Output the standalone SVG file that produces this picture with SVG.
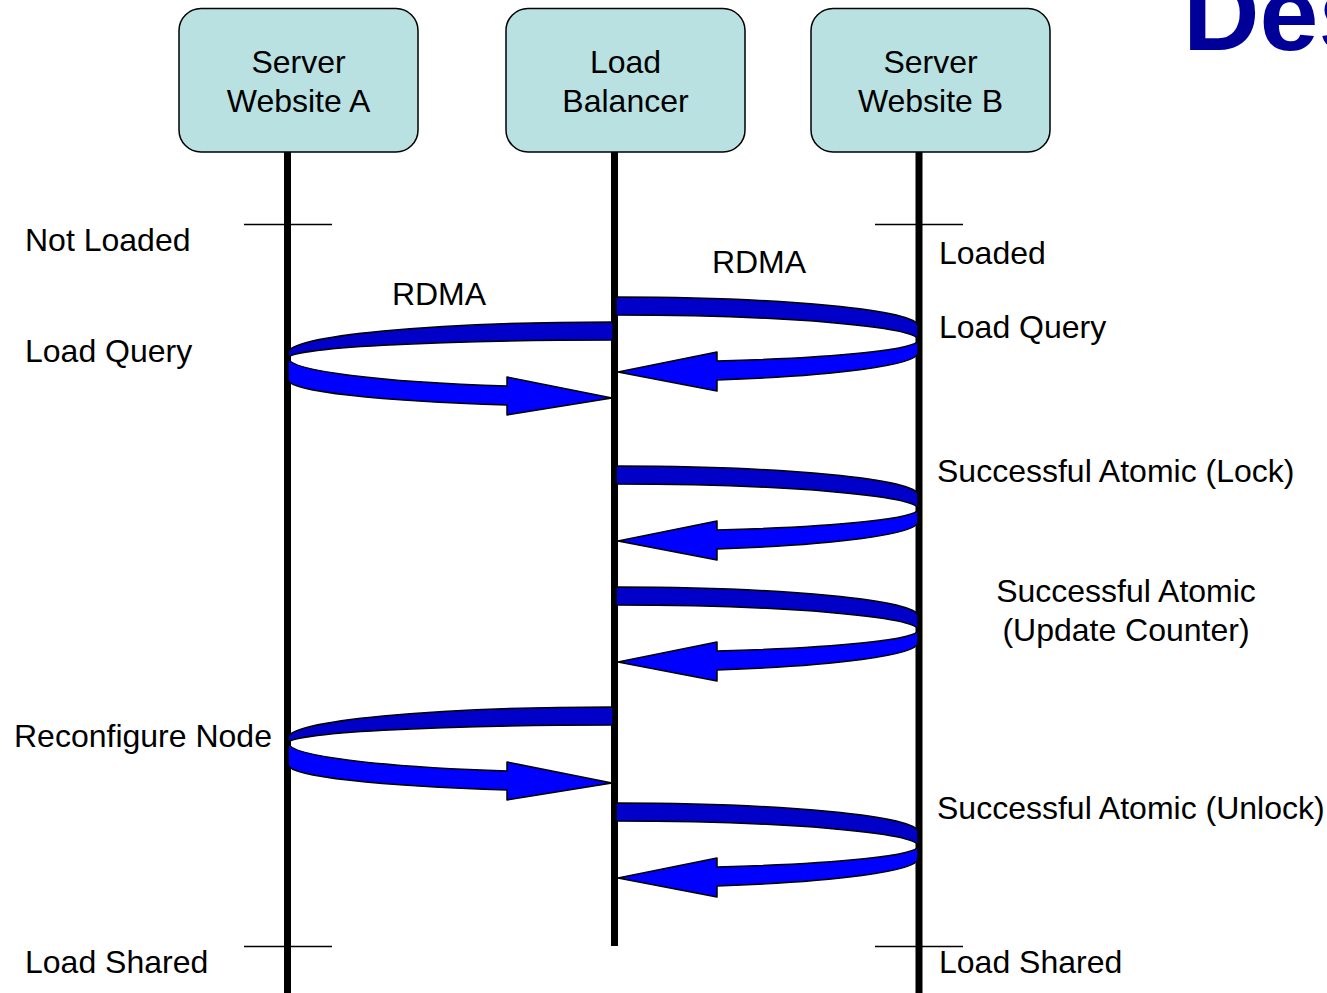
<svg xmlns="http://www.w3.org/2000/svg" width="1327" height="993" viewBox="0 0 1327 993">
  <style>
    .box { fill: #B9E1E2; stroke: #000; stroke-width: 1.5; }
    .life { stroke: #000; stroke-width: 7; fill: none; }
    .tick { stroke: #000; stroke-width: 1.5; }
    .lbl { font-family: "Liberation Sans", Arial, sans-serif; font-size: 32px; fill: #000; }
    .mid { text-anchor: middle; }
    .back { fill: #0000C8; stroke: #000; stroke-width: 1.5; stroke-linejoin: round; }
    .front { fill: #0000FF; stroke: #000; stroke-width: 1.5; stroke-linejoin: round; }
    .title { font-family: "Liberation Sans", Arial, sans-serif; font-weight: bold; font-size: 106px; fill: #000099; }
  </style>
  <defs>
    <!-- ribbon loop: balancer to website B and back -->
    <g id="loopB">
      <path class="back" d="M616,0 A304,29 0 0 1 918,29 L918,43 A304,25 0 0 0 616,18 Z"/>
      <path class="front" d="M918,43 A304,22 0 0 1 717,64 L717,55 L618,75 L717,94 L717,83 A304,29 0 0 0 918,56 Z"/>
    </g>
    <!-- ribbon loop: balancer to website A and back -->
    <g id="loopA">
      <path class="back" d="M613,0 A326,31 0 0 0 288,31 L288,36 A326,18 0 0 1 613,18 Z"/>
      <path class="front" d="M288,36 A326,30 0 0 0 507,64 L507,55 L612,76 L507,93 L507,83 A326,27 0 0 1 288,58 Z"/>
    </g>
  </defs>

  <rect width="1327" height="993" fill="#fff"/>

  <text class="title" x="1183" y="50">Des</text>

  <!-- lifelines and state ticks -->
  <g id="lifelines">
    <line class="life" x1="287.5" y1="152" x2="287.5" y2="993"/>
    <line class="life" x1="614.5" y1="152" x2="614.5" y2="946"/>
    <line class="life" x1="919" y1="152" x2="919" y2="993"/>
    <line class="tick" x1="244" y1="224.5" x2="332" y2="224.5"/>
    <line class="tick" x1="875" y1="224.5" x2="963" y2="224.5"/>
    <line class="tick" x1="244" y1="946.5" x2="332" y2="946.5"/>
    <line class="tick" x1="875" y1="946.5" x2="963" y2="946.5"/>
  </g>

  <g id="nodeA">
    <rect class="box" x="179" y="8.5" width="239" height="143.5" rx="22"/>
    <text class="lbl mid" x="298.5" y="73">Server</text>
    <text class="lbl mid" x="298.5" y="112">Website A</text>
  </g>
  <g id="nodeLB">
    <rect class="box" x="506" y="8.5" width="239" height="143.5" rx="22"/>
    <text class="lbl mid" x="625.5" y="73">Load</text>
    <text class="lbl mid" x="625.5" y="112">Balancer</text>
  </g>
  <g id="nodeB">
    <rect class="box" x="811" y="8.5" width="239" height="143.5" rx="22"/>
    <text class="lbl mid" x="930.5" y="73">Server</text>
    <text class="lbl mid" x="930.5" y="112">Website B</text>
  </g>

  <!-- message loops -->
  <g id="connectors">
    <use href="#loopB" transform="translate(0,297)"/>
    <use href="#loopA" transform="translate(0,322)"/>
    <use href="#loopB" transform="translate(0,466)"/>
    <use href="#loopB" transform="translate(0,587)"/>
    <use href="#loopA" transform="translate(0,707)"/>
    <use href="#loopB" transform="translate(0,803)"/>
  </g>

  <!-- state and step labels -->
  <g id="labels">
    <text class="lbl" x="25" y="251">Not Loaded</text>
    <text class="lbl" x="25" y="362">Load Query</text>
    <text class="lbl" x="14" y="747">Reconfigure Node</text>
    <text class="lbl" x="25" y="973">Load Shared</text>
    <text class="lbl mid" x="439" y="305">RDMA</text>
    <text class="lbl mid" x="759" y="273">RDMA</text>
    <text class="lbl" x="939" y="264">Loaded</text>
    <text class="lbl" x="939" y="338">Load Query</text>
    <text class="lbl" x="937" y="482">Successful Atomic (Lock)</text>
    <text class="lbl mid" x="1126" y="602">Successful Atomic</text>
    <text class="lbl mid" x="1126" y="641">(Update Counter)</text>
    <text class="lbl" x="937" y="819">Successful Atomic (Unlock)</text>
    <text class="lbl" x="939" y="973">Load Shared</text>
  </g>
</svg>
